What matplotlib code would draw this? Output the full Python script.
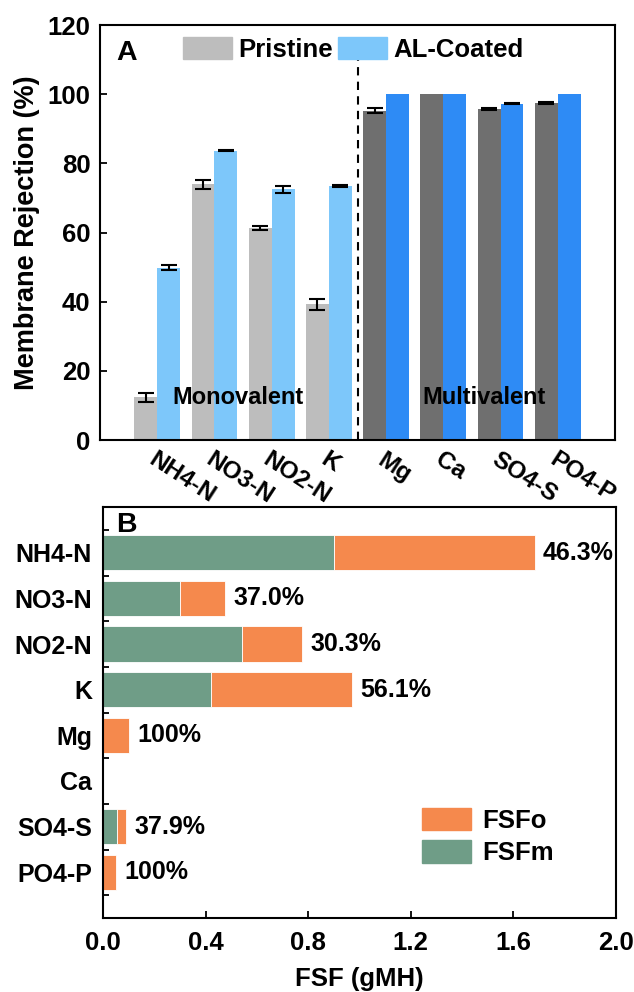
import numpy as np
import matplotlib
matplotlib.use("Agg")
import matplotlib.pyplot as plt
from matplotlib.patches import Patch

plt.rcParams["font.family"] = ["Liberation Sans", "DejaVu Sans"]
plt.rcParams["font.weight"] = "bold"
plt.rcParams["axes.labelweight"] = "bold"

# panel A: membrane rejection (%)
ions = ["NH4-N", "NO3-N", "NO2-N", "K", "Mg", "Ca", "SO4-S", "PO4-P"]
pristine = [12.3, 73.9, 61.4, 39.2, 95.2, 100.0, 95.7, 97.4]
pristine_err = [1.4, 1.2, 0.6, 1.6, 0.7, 0.0, 0.2, 0.2]
coated = [49.8, 83.6, 72.5, 73.4, 100.0, 100.0, 97.3, 100.0]
coated_err = [0.7, 0.15, 1.0, 0.3, 0.0, 0.0, 0.2, 0.0]
n_mono = 4

# panel B: forward solute flux (gMH)
fsf_m = [0.902, 0.300, 0.542, 0.423, 0.0, 0.0, 0.055, 0.0]
fsf_o = [0.781, 0.175, 0.233, 0.547, 0.103, 0.0, 0.035, 0.052]
fsfo_share = ["46.3%", "37.0%", "30.3%", "56.1%", "100%", "", "37.9%", "100%"]

C_PRI_MONO = "#bdbdbd"
C_COAT_MONO = "#7dc7fa"
C_PRI_MULTI = "#6f6f6f"
C_COAT_MULTI = "#2e8bf5"
C_FSFM = "#6f9d87"
C_FSFO = "#f5894d"

FS = 18.5

fig = plt.figure(figsize=(6.34, 9.92), dpi=100)

# ---- panel A ----
ax = fig.add_axes([100 / 634, 1 - 440 / 992, 515 / 634, 415 / 992])
x = np.arange(1, len(ions) + 1)
w = 0.4
pri_colors = [C_PRI_MONO if i < n_mono else C_PRI_MULTI for i in range(len(ions))]
coat_colors = [C_COAT_MONO if i < n_mono else C_COAT_MULTI for i in range(len(ions))]
ax.bar(x - w / 2, pristine, w, color=pri_colors, edgecolor="none", zorder=2)
ax.bar(x + w / 2, coated, w, color=coat_colors, edgecolor="none", zorder=2)

perr = np.array(pristine_err)
cerr = np.array(coated_err)
pm = perr > 0
cm = cerr > 0
ax.errorbar((x - w / 2)[pm], np.array(pristine)[pm], yerr=perr[pm], fmt="none",
            ecolor="black", elinewidth=1.5, capsize=5.5, capthick=1.5, zorder=3)
ax.errorbar((x + w / 2)[cm], np.array(coated)[cm], yerr=cerr[cm], fmt="none",
            ecolor="black", elinewidth=1.5, capsize=5.5, capthick=1.5, zorder=3)

ax.plot([n_mono + 0.5, n_mono + 0.5], [0, 110], color="black", lw=1.5,
        dashes=(4, 3), zorder=3)

ax.set_xlim(0, 9)
ax.set_ylim(0, 120)
ax.set_yticks(np.arange(0, 121, 20))
ax.set_xticks(x)
ax.set_xticklabels(ions, rotation=-33, ha="left", va="top", rotation_mode="anchor")
ax.tick_params(axis="both", direction="in", length=5, width=1.3, labelsize=FS, pad=7)
ax.tick_params(axis="x", labelsize=17.5, pad=6)
ax.set_ylabel("Membrane Rejection (%)", fontsize=19.5)
ax.yaxis.set_label_coords(-0.117, 0.5)
for s in ax.spines.values():
    s.set_linewidth(1.5)

ax.text(2.42, 12.4, "Monovalent", fontsize=17, ha="center", va="center", zorder=4)
ax.text(6.72, 12.4, "Multivalent", fontsize=17, ha="center", va="center", zorder=4)
ax.text(0.031, 0.965, "A", transform=ax.transAxes, fontsize=20.5, ha="left", va="top")

ax.legend(handles=[Patch(color=C_PRI_MONO, label="Pristine"),
                   Patch(color=C_COAT_MONO, label="AL-Coated")],
          ncol=2, frameon=False, fontsize=FS, loc="upper left",
          bbox_to_anchor=(0.161, 0.972), borderpad=0, borderaxespad=0,
          handlelength=1.9, handleheight=0.95, handletextpad=0.25,
          columnspacing=0.2)

# ---- panel B ----
bx = fig.add_axes([103 / 634, 1 - 918 / 992, 513 / 634, 411 / 992])
y = np.arange(1, len(ions) + 1)
h = 0.78
bx.barh(y, fsf_m, h, color=C_FSFM, edgecolor="white", linewidth=0.6, zorder=2)
bx.barh(y, fsf_o, h, left=fsf_m, color=C_FSFO, edgecolor="white", linewidth=0.6,
        zorder=2)
totals = np.array(fsf_m) + np.array(fsf_o)
for yi, tot, lab in zip(y, totals, fsfo_share):
    if lab:
        bx.annotate(lab, (tot, yi), xytext=(6, 0), textcoords="offset points",
                    ha="left", va="center", fontsize=18)

bx.set_ylim(9, 0)
bx.set_xlim(0, 2.0)
bx.set_yticks(y)
bx.set_yticklabels(ions)
bx.set_yticks(np.arange(0.5, 9, 1), minor=True)
bx.set_xticks(np.arange(0, 2.01, 0.4))
bx.set_xticklabels([f"{v:.1f}" for v in np.arange(0, 2.01, 0.4)])
bx.tick_params(axis="y", which="major", length=0, labelsize=18, pad=8)
bx.tick_params(axis="y", which="minor", direction="in", length=4, width=1.3)
bx.tick_params(axis="x", direction="in", length=5, width=1.3, labelsize=FS, pad=9)
bx.set_xlabel("FSF (gMH)", fontsize=FS, labelpad=9)
for s in bx.spines.values():
    s.set_linewidth(1.5)
bx.text(0.025, 0.988, "B", transform=bx.transAxes, fontsize=20.5, ha="left", va="top",
        zorder=5)

bx.legend(handles=[Patch(color=C_FSFO, label="FSFo"),
                   Patch(color=C_FSFM, label="FSFm")],
          frameon=False, fontsize=FS, loc="upper left",
          bbox_to_anchor=(0.622, 0.268), borderpad=0, borderaxespad=0,
          handlelength=1.9, handleheight=0.95, handletextpad=0.45,
          labelspacing=0.3)

fig.savefig("out.png", dpi=100)
